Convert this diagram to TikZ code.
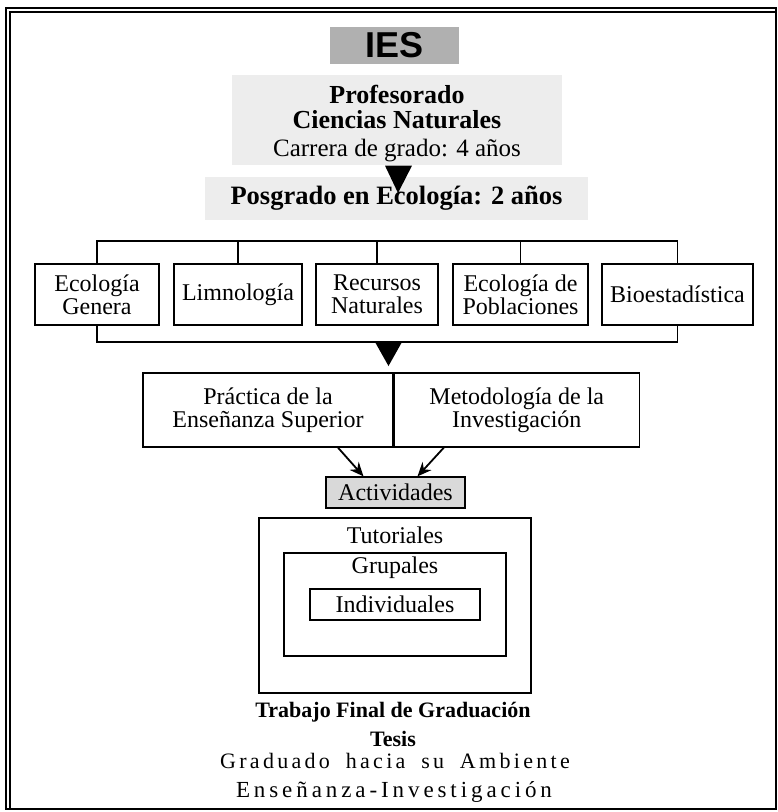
\documentclass[tikz,border=0pt]{standalone}
\usepackage{fontspec}
\setmainfont{Liberation Serif}
\newfontfamily\iesfont{Liberation Sans}
\newfontfamily\widefontA[LetterSpace=15,WordSpace=1.8]{Liberation Serif}
\newfontfamily\widefontB[LetterSpace=17]{Liberation Serif}
\usetikzlibrary{arrows.meta}

\tikzset{every picture/.style={line width=1.3pt}}
\tikzset{
	boxnode/.style={draw, rectangle, inner sep=0pt, align=center, font=\fontsize{24}{23}\selectfont},
	shaded/.style={fill=gray!14, inner sep=0pt, align=center},
	arr/.style={-{Stealth[length=14pt,width=12pt]}, line width=1.8pt},
	plaintext/.style={inner sep=0pt, font=\fontsize{24}{24}\selectfont}
}

\begin{document}
\begin{tikzpicture}[x=1pt,y=1pt,yscale=-1]
		\useasboundingbox (0,0) rectangle (778,812);
		
		%Shape: Frame 
		\draw [line width=1.7pt] (6,8) rectangle (776,809) ;
		\draw [line width=1.1pt] (10,809) -- (10,12) -- (776,12) ;
		
		%Shape: Rectangle [IES] 
		\node [fill=gray!62, minimum width=129pt, minimum height=37pt, inner sep=0pt, font=\iesfont\fontsize{36}{36}\selectfont\bfseries] (ies) at (394.5,45.5) {IES};
		%Shape: Rectangle [carrera de grado] 
		\node [shaded, minimum width=330pt, minimum height=90pt, font=\fontsize{26}{25}\selectfont\bfseries] (prof) at (397,120) {\rule{0pt}{26pt}Profesorado\\ Ciencias Naturales\\[3pt] \fontsize{25}{25}\selectfont\mdseries Carrera de grado: 4 años};
		%Shape: Rectangle [posgrado] 
		\node [shaded, minimum width=383pt, minimum height=43pt, font=\fontsize{26.5}{28}\selectfont\bfseries] (posg) at (396.5,198.5) {Posgrado en Ecología: 2 años};
		%Shape: Triangle 
		\coordinate (tri1) at (398,193) ;
		\fill ([xshift=-12pt]prof.south) -- ([xshift=15pt]prof.south) -- (tri1) -- cycle ;
		
		%Shape: Rectangles [materias] 
		\node [boxnode, minimum width=124pt, minimum height=61pt] (ecogen) at (97,294.5) {Ecología\\Genera};
		\node [boxnode, minimum width=128pt, minimum height=61pt] (limno) at (238,294.5) {Limnología};
		\node [boxnode, minimum width=122pt, minimum height=61pt] (recnat) at (377,294.5) {Recursos\\Naturales};
		\node [boxnode, minimum width=135pt, minimum height=61pt] (ecopob) at (520.5,294.5) {Ecología de\\Poblaciones};
		\node [boxnode, minimum width=151pt, minimum height=61pt] (bioest) at (677.5,294.5) {Bioestadística};
		
		%Straight Lines [llave superior] 
		\coordinate (topbar) at (388,241) ;
		\draw    (ecogen.north) |- (topbar -| bioest.north) -- (bioest.north) ;
		\foreach \n in {limno,recnat,ecopob}
			\draw    (\n.north) -- (\n.north |- topbar) ;
		%Straight Lines [llave inferior] 
		\coordinate (botbar) at (388.5,342) ;
		\draw    (ecogen.south) |- (botbar -| bioest.south) -- (bioest.south) ;
		%Shape: Triangle 
		\coordinate (tri2) at (388.5,366) ;
		\fill ([xshift=-13.5pt]botbar) -- ([xshift=13.5pt]botbar) -- (tri2) -- cycle ;
		
		%Shape: Rectangles [practica / metodologia] 
		\node [boxnode, minimum width=250pt, minimum height=74pt] (practica) at (268,410) {Práctica de la\\Enseñanza Superior};
		\node [boxnode, minimum width=245pt, minimum height=74pt, anchor=west] (metodo) at (practica.east) {Metodología de la\\Investigación};
		
		%Shape: Rectangle [actividades] 
		\node [boxnode, fill=gray!30, minimum width=139pt, minimum height=31pt] (activ) at (395.5,492.5) {Actividades};
		%Straight Lines [flechas] 
		\draw [arr] ([xshift=70pt]practica.south) -- ([xshift=-32pt]activ.north) ;
		\draw [arr] ([xshift=-73pt]metodo.south) -- ([xshift=22pt]activ.north) ;
		
		%Shape: Rectangles [tutoriales] 
		\node [draw, inner sep=0pt, minimum width=272pt, minimum height=175pt] (tutor) at (395,605.5) {};
		\node [draw, inner sep=0pt, minimum width=222pt, minimum height=103pt] (grupal) at (395,604.5) {};
		\node [boxnode, minimum width=170pt, minimum height=31pt] (indiv) at (395,604.5) {Individuales};
		\node [plaintext] (tutlbl) at (395,535) {Tutoriales};
		\node [plaintext] (gruplbl) at (395,568) {Grupales};
		
		%Text [cierre] 
		\node [inner sep=0pt, font=\fontsize{22}{22}\selectfont\bfseries] (tfg) at (393,712) {Trabajo Final de Graduación};
		\node [inner sep=0pt, font=\fontsize{22}{22}\selectfont\bfseries] (tesis) at (393,739) {Tesis};
		\node [inner sep=0pt, font=\widefontA\fontsize{22}{22}\selectfont] (grad) at (395,761) {Graduado hacia su Ambiente};
		\node [inner sep=0pt, font=\widefontB\fontsize{23}{23}\selectfont] (ensinv) at (394,792) {Enseñanza-Investigación};
	\end{tikzpicture}
\end{document}
